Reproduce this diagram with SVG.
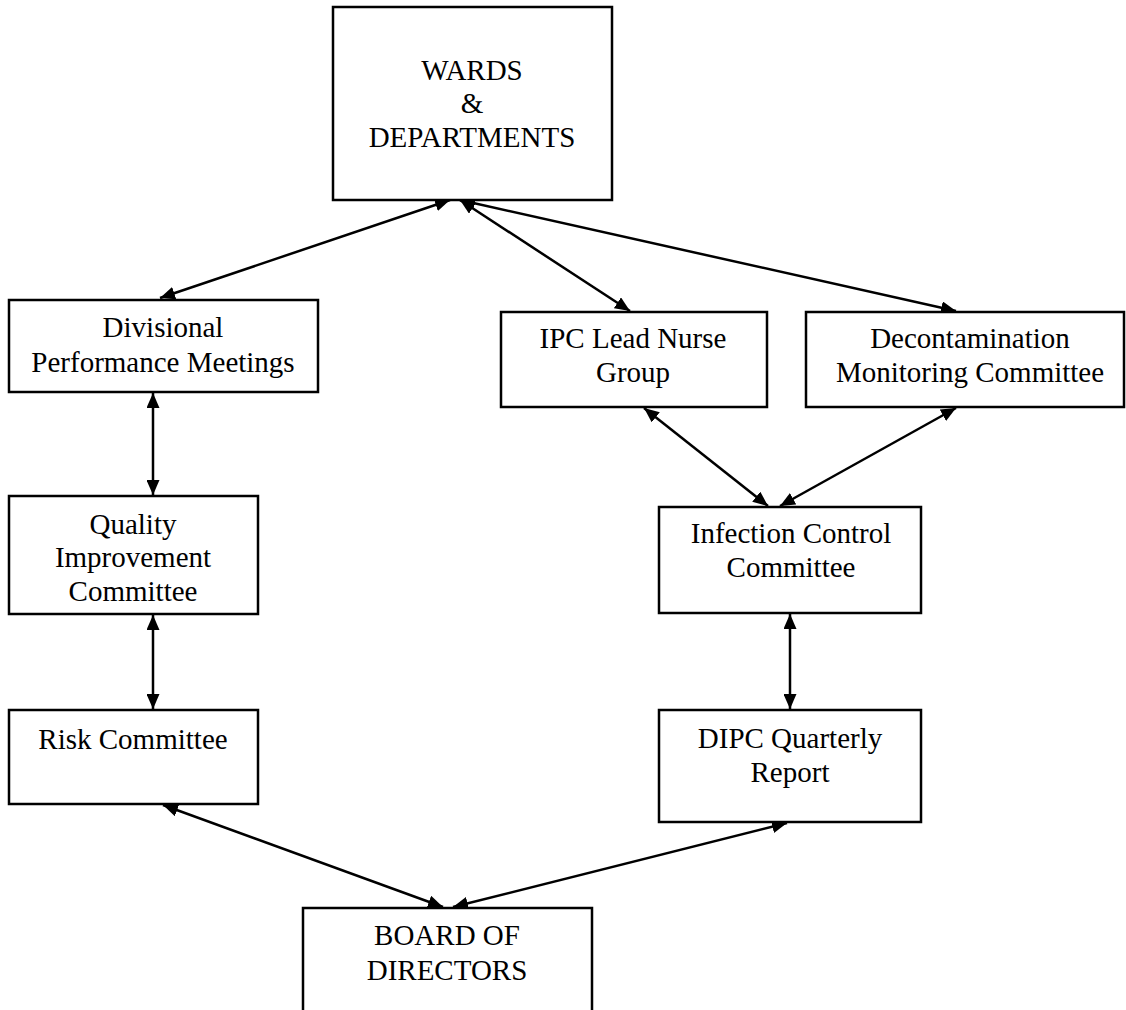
<svg xmlns="http://www.w3.org/2000/svg" width="1126" height="1010" viewBox="0 0 1126 1010">
<style>
.box{fill:#fff;stroke:#000;stroke-width:2.5}
.t{font-family:"Liberation Serif","Times New Roman",serif;font-size:29px;fill:#000;text-anchor:middle}
.c{stroke:#000;stroke-width:2.5;fill:none;marker-start:url(#a);marker-end:url(#a)}
</style>
<defs>
<marker id="a" viewBox="0 0 15 13" refX="15" refY="6.5" markerWidth="6" markerHeight="5.2" orient="auto-start-reverse" markerUnits="strokeWidth">
<path d="M0,0 L15,6.5 L0,13 z" fill="#000"/>
</marker>
</defs>
<rect width="1126" height="1010" fill="#fff"/>
<g id="connectors">
<line class="c" x1="450" y1="200" x2="160" y2="298"/>
<line class="c" x1="460" y1="200" x2="630" y2="311"/>
<line class="c" x1="460" y1="200" x2="956" y2="311"/>
<line class="c" x1="153" y1="393" x2="153" y2="495"/>
<line class="c" x1="153" y1="615" x2="153" y2="709"/>
<line class="c" x1="644" y1="408" x2="768" y2="506"/>
<line class="c" x1="956" y1="408" x2="780" y2="506"/>
<line class="c" x1="790" y1="614" x2="790" y2="709"/>
<line class="c" x1="163" y1="805" x2="443" y2="907"/>
<line class="c" x1="787" y1="823" x2="453" y2="907"/>
</g>
<g id="wards">
<rect class="box" x="333" y="7" width="279" height="193"/>
<text class="t" x="472" y="80">WARDS</text>
<text class="t" x="472" y="113">&amp;</text>
<text class="t" x="472" y="147">DEPARTMENTS</text>
</g>
<g id="divisional">
<rect class="box" x="9" y="300" width="309" height="92"/>
<text class="t" x="163" y="337">Divisional</text>
<text class="t" x="163" y="372">Performance Meetings</text>
</g>
<g id="ipc">
<rect class="box" x="501" y="312" width="266" height="95"/>
<text class="t" x="633" y="348">IPC Lead Nurse</text>
<text class="t" x="633" y="382">Group</text>
</g>
<g id="decon">
<rect class="box" x="806" y="312" width="318" height="95"/>
<text class="t" x="970" y="348">Decontamination</text>
<text class="t" x="970" y="382">Monitoring Committee</text>
</g>
<g id="quality">
<rect class="box" x="9" y="496" width="249" height="118"/>
<text class="t" x="133" y="534">Quality</text>
<text class="t" x="133" y="567">Improvement</text>
<text class="t" x="133" y="601">Committee</text>
</g>
<g id="infection">
<rect class="box" x="659" y="507" width="262" height="106"/>
<text class="t" x="791" y="543">Infection Control</text>
<text class="t" x="791" y="577">Committee</text>
</g>
<g id="risk">
<rect class="box" x="9" y="710" width="249" height="94"/>
<text class="t" x="133" y="749">Risk Committee</text>
</g>
<g id="dipc">
<rect class="box" x="659" y="710" width="262" height="112"/>
<text class="t" x="790" y="748">DIPC Quarterly</text>
<text class="t" x="790" y="782">Report</text>
</g>
<g id="board">
<path class="box" d="M303,1010 V908 H592 V1010"/>
<text class="t" x="447" y="945">BOARD OF</text>
<text class="t" x="447" y="980">DIRECTORS</text>
</g>
</svg>
